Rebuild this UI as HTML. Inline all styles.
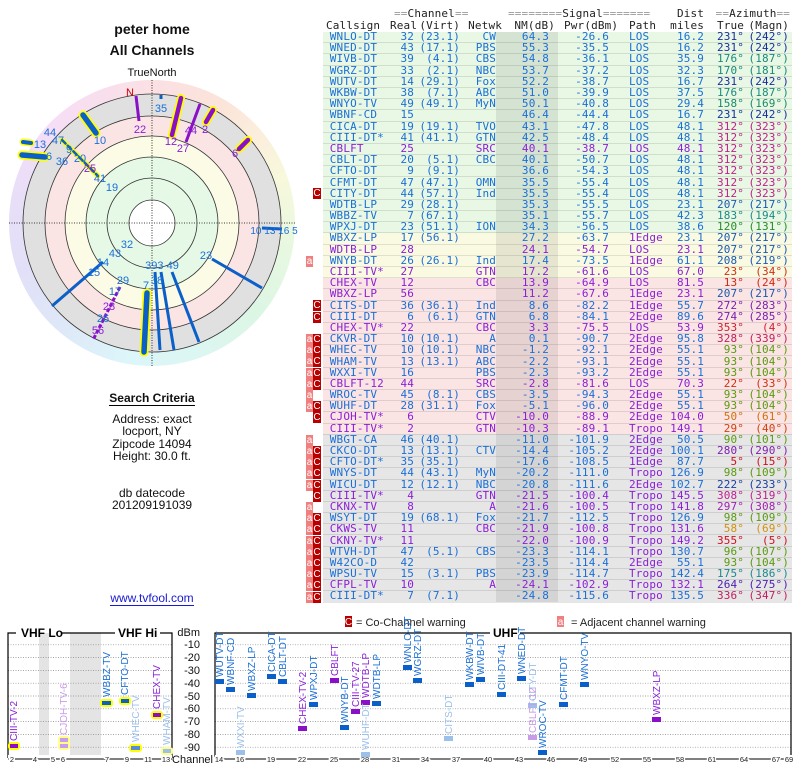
<!DOCTYPE html>
<html><head><meta charset="utf-8">
<style>
*{margin:0;padding:0;box-sizing:border-box}
body{width:800px;height:768px;background:#fff;position:relative;overflow:hidden;font-family:"Liberation Sans",sans-serif}
.t{position:absolute;left:0;width:304px;text-align:center;color:#111}
table{position:absolute;left:323px;top:7.5px;border-collapse:collapse;table-layout:fixed;width:469px;font-family:"DejaVu Sans Mono","Liberation Mono",monospace;font-size:11px;letter-spacing:0.15px}
td{height:11.2px;line-height:10px;padding:0;white-space:nowrap;overflow:visible;border-bottom:1px solid rgba(0,0,0,0.1);color:#1a6fd8}
tr.h td{height:12px;border:none;color:#222;line-height:11px}
tr.h td i{font-style:normal;color:#999}
td.r{text-align:right}
td.nm{text-align:right;padding-right:9px;background:rgba(0,0,0,0.08)}
td.p{padding-left:20px}
td.m{text-align:right;padding-right:3px}
tr.g{background:#e8f8e4}tr.y{background:#fafae2}tr.k{background:#fbe4e4}tr.x{background:#e6e6e6}
tr.pu td{color:#8a1fd8}
td.pp{color:#8a1fd8}
.bd{position:absolute;left:303px;width:20px;height:11px}
.bd span{position:absolute;top:0;height:11px;font-family:"Liberation Sans",sans-serif;font-size:10px;line-height:11px;color:#fff;text-align:center}
.ba{left:3px;width:7px;background:#f08080}
.bc{left:10px;width:8px;background:#b80000}
</style></head><body>
<div class="t" style="top:21px;font-size:14px;font-weight:bold">peter home</div>
<div class="t" style="top:42px;font-size:14px;font-weight:bold">All Channels</div>
<div class="t" style="top:67px;font-size:11px">TrueNorth</div>

<div style="position:absolute;left:9px;top:80px;width:286px;height:286px;border-radius:50%;background:conic-gradient(#fbe0e4 0deg,#fbe4da 30deg,#fbeedc 50deg,#f8f8dc 70deg,#e8f8e0 100deg,#dcf6e4 130deg,#dcf6f2 160deg,#dcf6fa 190deg,#dee8f8 220deg,#e2e0f8 250deg,#e8def8 280deg,#f6def6 315deg,#fbe0e4 360deg)"></div>
<svg style="position:absolute;left:0;top:0" width="304" height="380">
<circle cx="152" cy="223" r="129" fill="#e0e0e0"/>
<circle cx="152" cy="223" r="107" fill="#fbe4e4"/>
<circle cx="152" cy="223" r="87" fill="#fbfbe6"/>
<circle cx="152" cy="223" r="66" fill="#e6f8e6"/>
<circle cx="152" cy="223" r="23" fill="#fff"/>
<g fill="none" stroke="#333" stroke-width="0.8">
<circle cx="152" cy="223" r="129"/><circle cx="152" cy="223" r="107"/><circle cx="152" cy="223" r="87"/><circle cx="152" cy="223" r="66"/><circle cx="152" cy="223" r="45"/><circle cx="152" cy="223" r="23"/>
</g>
<g stroke="#000" stroke-width="0.8" stroke-dasharray="1,1.5"><line x1="152" y1="80" x2="152" y2="366"/><line x1="9" y1="223" x2="295" y2="223"/></g>
<g stroke-linecap="round">
<line x1="181" y1="98" x2="172" y2="135" stroke="#ff0" stroke-width="8"/><line x1="181" y1="98" x2="172" y2="135" stroke="#8a10c8" stroke-width="4.5"/>
<line x1="213" y1="110" x2="206" y2="122" stroke="#ff0" stroke-width="8"/><line x1="213" y1="110" x2="206" y2="122" stroke="#8a10c8" stroke-width="4.5"/>
<line x1="248" y1="140" x2="239" y2="149" stroke="#ff0" stroke-width="8"/><line x1="248" y1="140" x2="239" y2="149" stroke="#8a10c8" stroke-width="4.5"/>
<line x1="83" y1="115" x2="96" y2="133" stroke="#ff0" stroke-width="9"/><line x1="83" y1="115" x2="96" y2="133" stroke="#0a5fc8" stroke-width="5.5"/>
<line x1="23" y1="142" x2="31" y2="143" stroke="#ff0" stroke-width="7"/><line x1="23" y1="142" x2="31" y2="143" stroke="#0a5fc8" stroke-width="4"/>
<line x1="22" y1="155" x2="45" y2="157" stroke="#ff0" stroke-width="9"/><line x1="22" y1="155" x2="45" y2="157" stroke="#0a5fc8" stroke-width="5.5"/>
<line x1="62" y1="140" x2="98" y2="176" stroke="#ff0" stroke-width="5"/><line x1="62" y1="140" x2="98" y2="176" stroke="#0a5fc8" stroke-width="2.5" stroke-dasharray="5,3"/>
<line x1="147" y1="293" x2="144" y2="352" stroke="#ff0" stroke-width="9"/><line x1="147" y1="293" x2="144" y2="352" stroke="#0a5fc8" stroke-width="5.5"/>
</g>
<g stroke-width="3">
<line x1="136" y1="96" x2="139" y2="121" stroke="#8a10c8"/>
<line x1="161" y1="95" x2="161" y2="99" stroke="#0a5fc8"/>
<line x1="200" y1="104" x2="186" y2="142" stroke="#8a10c8"/>
<line x1="212" y1="259" x2="262" y2="288" stroke="#0a5fc8"/>
<line x1="103" y1="262" x2="52" y2="306" stroke="#0a5fc8"/>
<line x1="120" y1="287" x2="93" y2="340" stroke="#8a10c8" stroke-dasharray="4,2"/>
<line x1="155" y1="272" x2="160" y2="350" stroke="#0a5fc8"/>
<line x1="161" y1="272" x2="174" y2="350" stroke="#0a5fc8"/>
<line x1="172" y1="272" x2="199" y2="342" stroke="#0a5fc8"/>
<line x1="262" y1="228" x2="282" y2="229" stroke="#0a5fc8"/>
</g>
<g font-family="Liberation Sans,sans-serif" font-size="11" fill="#1a6fd8" text-anchor="middle">
<text x="130" y="96" fill="#c00">N</text>
<text x="140" y="133" fill="#8a1fd8">22</text><text x="161" y="112">35</text>
<text x="171" y="145" fill="#8a1fd8">12</text><text x="191" y="134" fill="#8a1fd8">44</text><text x="183" y="152" fill="#8a1fd8">27</text>
<text x="205" y="133" fill="#8a1fd8">2</text><text x="235" y="157" fill="#8a1fd8">6</text>
<text x="100" y="144">10</text>
<text x="50" y="136">44</text><text x="58" y="144">47</text><text x="69" y="153">9</text><text x="80" y="162">20</text><text x="90" y="172" fill="#8a1fd8">25</text><text x="100" y="182">41</text><text x="112" y="191">19</text>
<text x="40" y="148">13</text><text x="49" y="160">6</text><text x="62" y="165">36</text>
<text x="274" y="234" font-size="10">10 13 16 5</text>
<text x="206" y="259">23</text>
<text x="127" y="248">32</text><text x="115" y="257">43</text><text x="103" y="266">14</text><text x="94" y="276">15</text>
<text x="123" y="284">29</text><text x="115" y="295">17</text><text x="109" y="310" fill="#8a1fd8">28</text><text x="103" y="322">26</text><text x="98" y="334" fill="#8a1fd8">56</text>
<text x="162" y="269">393 49</text><text x="146" y="289">7</text><text x="157" y="284">38</text>
</g>
</svg>

<div class="t" style="top:391px;font-size:12px;font-weight:bold"><span style="border-bottom:1px solid #000">Search Criteria</span></div>
<div class="t" style="top:413px;font-size:12px;line-height:12.3px">Address: exact<br>locport, NY<br>Zipcode 14094<br>Height: 30.0 ft.</div>
<div class="t" style="top:487px;font-size:12px;line-height:12.3px">db datecode<br>201209191039</div>
<div class="t" style="top:591px;font-size:12px;color:#1a1ad0"><span style="border-bottom:1px solid #1a1ad0">www.tvfool.com</span></div>

<table>
<colgroup><col style="width:67px"><col style="width:24px"><col style="width:46px"><col style="width:36px"><col style="width:62px"><col style="width:51px"><col style="width:58px"><col style="width:37px"><col style="width:40px"><col style="width:48px"></colgroup>
<tr class="h"><td></td><td colspan="2" style="text-align:center;padding-left:4px"><i>==</i>Channel<i>==</i></td><td></td><td colspan="3" style="text-align:left;padding-left:12px"><i>========</i>Signal<i>=======</i></td><td class="r">Dist</td><td colspan="2" style="text-align:right;padding-right:2px"><i>==</i>Azimuth<i>==</i></td></tr>
<tr class="h"><td style="padding-left:3px">Callsign</td><td class="r" style="position:relative;left:0">Real</td><td class="r">(Virt)</td><td class="r" style="position:relative;left:6px">Netwk</td><td class="r" style="padding-right:3px">NM(dB)</td><td class="r" style="position:relative;left:6px">Pwr(dBm)</td><td class="p">Path</td><td class="r">miles</td><td class="r">True</td><td class="m">(Magn)</td></tr>
<tr class="g"><td>&nbsp;WNLO-DT</td><td class="r">32</td><td class="r">(23.1)</td><td class="r">CW</td><td class="nm">64.3</td><td class="r">-26.6</td><td class="p">LOS</td><td class="r">16.2</td><td class="r" style="color:#1a2fa0">231°</td><td class="m" style="color:#1a2fa0">(242°)</td></tr>
<tr class="g"><td>&nbsp;WNED-DT</td><td class="r">43</td><td class="r">(17.1)</td><td class="r">PBS</td><td class="nm">55.3</td><td class="r">-35.5</td><td class="p">LOS</td><td class="r">16.2</td><td class="r" style="color:#1a2fa0">231°</td><td class="m" style="color:#1a2fa0">(242°)</td></tr>
<tr class="g"><td>&nbsp;WIVB-DT</td><td class="r">39</td><td class="r">(4.1)</td><td class="r">CBS</td><td class="nm">54.8</td><td class="r">-36.1</td><td class="p">LOS</td><td class="r">35.9</td><td class="r" style="color:#1a8a7a">176°</td><td class="m" style="color:#1a8a7a">(187°)</td></tr>
<tr class="g"><td>&nbsp;WGRZ-DT</td><td class="r">33</td><td class="r">(2.1)</td><td class="r">NBC</td><td class="nm">53.7</td><td class="r">-37.2</td><td class="p">LOS</td><td class="r">32.3</td><td class="r" style="color:#1a8a7a">170°</td><td class="m" style="color:#1a8a7a">(181°)</td></tr>
<tr class="g"><td>&nbsp;WUTV-DT</td><td class="r">14</td><td class="r">(29.1)</td><td class="r">Fox</td><td class="nm">52.2</td><td class="r">-38.7</td><td class="p">LOS</td><td class="r">16.7</td><td class="r" style="color:#1a2fa0">231°</td><td class="m" style="color:#1a2fa0">(242°)</td></tr>
<tr class="g"><td>&nbsp;WKBW-DT</td><td class="r">38</td><td class="r">(7.1)</td><td class="r">ABC</td><td class="nm">51.0</td><td class="r">-39.9</td><td class="p">LOS</td><td class="r">37.5</td><td class="r" style="color:#1a8a7a">176°</td><td class="m" style="color:#1a8a7a">(187°)</td></tr>
<tr class="g"><td>&nbsp;WNYO-TV</td><td class="r">49</td><td class="r">(49.1)</td><td class="r">MyN</td><td class="nm">50.1</td><td class="r">-40.8</td><td class="p">LOS</td><td class="r">29.4</td><td class="r" style="color:#1a8a6a">158°</td><td class="m" style="color:#1a8a6a">(169°)</td></tr>
<tr class="g"><td>&nbsp;WBNF-CD</td><td class="r">15</td><td class="r"></td><td class="r"></td><td class="nm">46.4</td><td class="r">-44.4</td><td class="p">LOS</td><td class="r">16.7</td><td class="r" style="color:#1a2fa0">231°</td><td class="m" style="color:#1a2fa0">(242°)</td></tr>
<tr class="g"><td>&nbsp;CICA-DT</td><td class="r">19</td><td class="r">(19.1)</td><td class="r">TVO</td><td class="nm">43.1</td><td class="r">-47.8</td><td class="p">LOS</td><td class="r">48.1</td><td class="r" style="color:#c0208a">312°</td><td class="m" style="color:#c0208a">(323°)</td></tr>
<tr class="g"><td>&nbsp;CIII-DT*</td><td class="r">41</td><td class="r">(41.1)</td><td class="r">GTN</td><td class="nm">42.5</td><td class="r">-48.4</td><td class="p">LOS</td><td class="r">48.1</td><td class="r" style="color:#c0208a">312°</td><td class="m" style="color:#c0208a">(323°)</td></tr>
<tr class="g pu"><td>&nbsp;CBLFT</td><td class="r">25</td><td class="r"></td><td class="r">SRC</td><td class="nm">40.1</td><td class="r">-38.7</td><td class="p">LOS</td><td class="r">48.1</td><td class="r" style="color:#c0208a">312°</td><td class="m" style="color:#c0208a">(323°)</td></tr>
<tr class="g"><td>&nbsp;CBLT-DT</td><td class="r">20</td><td class="r">(5.1)</td><td class="r">CBC</td><td class="nm">40.1</td><td class="r">-50.7</td><td class="p">LOS</td><td class="r">48.1</td><td class="r" style="color:#c0208a">312°</td><td class="m" style="color:#c0208a">(323°)</td></tr>
<tr class="g"><td>&nbsp;CFTO-DT</td><td class="r">9</td><td class="r">(9.1)</td><td class="r"></td><td class="nm">36.6</td><td class="r">-54.3</td><td class="p">LOS</td><td class="r">48.1</td><td class="r" style="color:#c0208a">312°</td><td class="m" style="color:#c0208a">(323°)</td></tr>
<tr class="g"><td>&nbsp;CFMT-DT</td><td class="r">47</td><td class="r">(47.1)</td><td class="r">OMN</td><td class="nm">35.5</td><td class="r">-55.4</td><td class="p">LOS</td><td class="r">48.1</td><td class="r" style="color:#c0208a">312°</td><td class="m" style="color:#c0208a">(323°)</td></tr>
<tr class="g"><td>&nbsp;CITY-DT</td><td class="r">44</td><td class="r">(57.1)</td><td class="r">Ind</td><td class="nm">35.5</td><td class="r">-55.4</td><td class="p">LOS</td><td class="r">48.1</td><td class="r" style="color:#c0208a">312°</td><td class="m" style="color:#c0208a">(323°)</td></tr>
<tr class="g"><td>&nbsp;WDTB-LP</td><td class="r">29</td><td class="r">(28.1)</td><td class="r"></td><td class="nm">35.3</td><td class="r">-55.5</td><td class="p">LOS</td><td class="r">23.1</td><td class="r" style="color:#1a5ab0">207°</td><td class="m" style="color:#1a5ab0">(217°)</td></tr>
<tr class="g"><td>&nbsp;WBBZ-TV</td><td class="r">7</td><td class="r">(67.1)</td><td class="r"></td><td class="nm">35.1</td><td class="r">-55.7</td><td class="p">LOS</td><td class="r">42.3</td><td class="r" style="color:#1a8a8a">183°</td><td class="m" style="color:#1a8a8a">(194°)</td></tr>
<tr class="g"><td>&nbsp;WPXJ-DT</td><td class="r">23</td><td class="r">(51.1)</td><td class="r">ION</td><td class="nm">34.3</td><td class="r">-56.5</td><td class="p">LOS</td><td class="r">38.6</td><td class="r" style="color:#2a8a2a">120°</td><td class="m" style="color:#2a8a2a">(131°)</td></tr>
<tr class="y"><td>&nbsp;WBXZ-LP</td><td class="r">17</td><td class="r">(56.1)</td><td class="r"></td><td class="nm">27.2</td><td class="r">-63.7</td><td class="p pp">1Edge</td><td class="r">23.1</td><td class="r" style="color:#1a5ab0">207°</td><td class="m" style="color:#1a5ab0">(217°)</td></tr>
<tr class="y pu"><td>&nbsp;WDTB-LP</td><td class="r">28</td><td class="r"></td><td class="r"></td><td class="nm">24.1</td><td class="r">-54.7</td><td class="p">LOS</td><td class="r">23.1</td><td class="r" style="color:#1a5ab0">207°</td><td class="m" style="color:#1a5ab0">(217°)</td></tr>
<tr class="y"><td>&nbsp;WNYB-DT</td><td class="r">26</td><td class="r">(26.1)</td><td class="r">Ind</td><td class="nm">17.4</td><td class="r">-73.5</td><td class="p pp">1Edge</td><td class="r">61.1</td><td class="r" style="color:#1a5ab0">208°</td><td class="m" style="color:#1a5ab0">(219°)</td></tr>
<tr class="y pu"><td>&nbsp;CIII-TV*</td><td class="r">27</td><td class="r"></td><td class="r">GTN</td><td class="nm">17.2</td><td class="r">-61.6</td><td class="p">LOS</td><td class="r">67.0</td><td class="r" style="color:#d03010">23°</td><td class="m" style="color:#d03010">(34°)</td></tr>
<tr class="k pu"><td>&nbsp;CHEX-TV</td><td class="r">12</td><td class="r"></td><td class="r">CBC</td><td class="nm">13.9</td><td class="r">-64.9</td><td class="p">LOS</td><td class="r">81.5</td><td class="r" style="color:#d02810">13°</td><td class="m" style="color:#d02810">(24°)</td></tr>
<tr class="k pu"><td>&nbsp;WBXZ-LP</td><td class="r">56</td><td class="r"></td><td class="r"></td><td class="nm">11.2</td><td class="r">-67.6</td><td class="p">1Edge</td><td class="r">23.1</td><td class="r" style="color:#1a5ab0">207°</td><td class="m" style="color:#1a5ab0">(217°)</td></tr>
<tr class="k"><td>&nbsp;CITS-DT</td><td class="r">36</td><td class="r">(36.1)</td><td class="r">Ind</td><td class="nm">8.6</td><td class="r">-82.2</td><td class="p pp">1Edge</td><td class="r">55.7</td><td class="r" style="color:#7a20b0">272°</td><td class="m" style="color:#7a20b0">(283°)</td></tr>
<tr class="k"><td>&nbsp;CIII-DT</td><td class="r">6</td><td class="r">(6.1)</td><td class="r">GTN</td><td class="nm">6.8</td><td class="r">-84.1</td><td class="p pp">2Edge</td><td class="r">89.6</td><td class="r" style="color:#7a20b0">274°</td><td class="m" style="color:#7a20b0">(285°)</td></tr>
<tr class="k pu"><td>&nbsp;CHEX-TV*</td><td class="r">22</td><td class="r"></td><td class="r">CBC</td><td class="nm">3.3</td><td class="r">-75.5</td><td class="p">LOS</td><td class="r">53.9</td><td class="r" style="color:#d02030">353°</td><td class="m" style="color:#d02030">(4°)</td></tr>
<tr class="k"><td>&nbsp;CKVR-DT</td><td class="r">10</td><td class="r">(10.1)</td><td class="r">A</td><td class="nm">0.1</td><td class="r">-90.7</td><td class="p pp">2Edge</td><td class="r">95.8</td><td class="r" style="color:#c0205a">328°</td><td class="m" style="color:#c0205a">(339°)</td></tr>
<tr class="k"><td>&nbsp;WHEC-TV</td><td class="r">10</td><td class="r">(10.1)</td><td class="r">NBC</td><td class="nm">-1.2</td><td class="r">-92.1</td><td class="p pp">2Edge</td><td class="r">55.1</td><td class="r" style="color:#5a9a10">93°</td><td class="m" style="color:#5a9a10">(104°)</td></tr>
<tr class="k"><td>&nbsp;WHAM-TV</td><td class="r">13</td><td class="r">(13.1)</td><td class="r">ABC</td><td class="nm">-2.2</td><td class="r">-93.1</td><td class="p pp">2Edge</td><td class="r">55.1</td><td class="r" style="color:#5a9a10">93°</td><td class="m" style="color:#5a9a10">(104°)</td></tr>
<tr class="k"><td>&nbsp;WXXI-TV</td><td class="r">16</td><td class="r"></td><td class="r">PBS</td><td class="nm">-2.3</td><td class="r">-93.2</td><td class="p pp">2Edge</td><td class="r">55.1</td><td class="r" style="color:#5a9a10">93°</td><td class="m" style="color:#5a9a10">(104°)</td></tr>
<tr class="k pu"><td>&nbsp;CBLFT-12</td><td class="r">44</td><td class="r"></td><td class="r">SRC</td><td class="nm">-2.8</td><td class="r">-81.6</td><td class="p">LOS</td><td class="r">70.3</td><td class="r" style="color:#d03010">22°</td><td class="m" style="color:#d03010">(33°)</td></tr>
<tr class="k"><td>&nbsp;WROC-TV</td><td class="r">45</td><td class="r">(8.1)</td><td class="r">CBS</td><td class="nm">-3.5</td><td class="r">-94.3</td><td class="p pp">2Edge</td><td class="r">55.1</td><td class="r" style="color:#5a9a10">93°</td><td class="m" style="color:#5a9a10">(104°)</td></tr>
<tr class="k"><td>&nbsp;WUHF-DT</td><td class="r">28</td><td class="r">(31.1)</td><td class="r">Fox</td><td class="nm">-5.1</td><td class="r">-96.0</td><td class="p pp">2Edge</td><td class="r">55.1</td><td class="r" style="color:#5a9a10">93°</td><td class="m" style="color:#5a9a10">(104°)</td></tr>
<tr class="k pu"><td>&nbsp;CJOH-TV*</td><td class="r">6</td><td class="r"></td><td class="r">CTV</td><td class="nm">-10.0</td><td class="r">-88.9</td><td class="p">2Edge</td><td class="r">104.0</td><td class="r" style="color:#d07010">50°</td><td class="m" style="color:#d07010">(61°)</td></tr>
<tr class="k pu"><td>&nbsp;CIII-TV*</td><td class="r">2</td><td class="r"></td><td class="r">GTN</td><td class="nm">-10.3</td><td class="r">-89.1</td><td class="p">Tropo</td><td class="r">149.1</td><td class="r" style="color:#d04010">29°</td><td class="m" style="color:#d04010">(40°)</td></tr>
<tr class="x"><td>&nbsp;WBGT-CA</td><td class="r">46</td><td class="r">(40.1)</td><td class="r"></td><td class="nm">-11.0</td><td class="r">-101.9</td><td class="p pp">2Edge</td><td class="r">50.5</td><td class="r" style="color:#5a9a10">90°</td><td class="m" style="color:#5a9a10">(101°)</td></tr>
<tr class="x"><td>&nbsp;CKCO-DT</td><td class="r">13</td><td class="r">(13.1)</td><td class="r">CTV</td><td class="nm">-14.4</td><td class="r">-105.2</td><td class="p pp">2Edge</td><td class="r">100.1</td><td class="r" style="color:#8020b0">280°</td><td class="m" style="color:#8020b0">(290°)</td></tr>
<tr class="x"><td>&nbsp;CFTO-DT*</td><td class="r">35</td><td class="r">(35.1)</td><td class="r"></td><td class="nm">-17.6</td><td class="r">-108.5</td><td class="p pp">1Edge</td><td class="r">87.7</td><td class="r" style="color:#d01020">5°</td><td class="m" style="color:#d01020">(15°)</td></tr>
<tr class="x"><td>&nbsp;WNYS-DT</td><td class="r">44</td><td class="r">(43.1)</td><td class="r">MyN</td><td class="nm">-20.2</td><td class="r">-111.0</td><td class="p pp">Tropo</td><td class="r">126.9</td><td class="r" style="color:#5a9a10">98°</td><td class="m" style="color:#5a9a10">(109°)</td></tr>
<tr class="x"><td>&nbsp;WICU-DT</td><td class="r">12</td><td class="r">(12.1)</td><td class="r">NBC</td><td class="nm">-20.8</td><td class="r">-111.6</td><td class="p pp">2Edge</td><td class="r">102.7</td><td class="r" style="color:#1a40a0">222°</td><td class="m" style="color:#1a40a0">(233°)</td></tr>
<tr class="x pu"><td>&nbsp;CIII-TV*</td><td class="r">4</td><td class="r"></td><td class="r">GTN</td><td class="nm">-21.5</td><td class="r">-100.4</td><td class="p">Tropo</td><td class="r">145.5</td><td class="r" style="color:#c02090">308°</td><td class="m" style="color:#c02090">(319°)</td></tr>
<tr class="x pu"><td>&nbsp;CKNX-TV</td><td class="r">8</td><td class="r"></td><td class="r">A</td><td class="nm">-21.6</td><td class="r">-100.5</td><td class="p">Tropo</td><td class="r">141.8</td><td class="r" style="color:#a020b0">297°</td><td class="m" style="color:#a020b0">(308°)</td></tr>
<tr class="x"><td>&nbsp;WSYT-DT</td><td class="r">19</td><td class="r">(68.1)</td><td class="r">Fox</td><td class="nm">-21.7</td><td class="r">-112.5</td><td class="p pp">Tropo</td><td class="r">126.9</td><td class="r" style="color:#5a9a10">98°</td><td class="m" style="color:#5a9a10">(109°)</td></tr>
<tr class="x pu"><td>&nbsp;CKWS-TV</td><td class="r">11</td><td class="r"></td><td class="r">CBC</td><td class="nm">-21.9</td><td class="r">-100.8</td><td class="p">Tropo</td><td class="r">131.6</td><td class="r" style="color:#d09010">58°</td><td class="m" style="color:#d09010">(69°)</td></tr>
<tr class="x pu"><td>&nbsp;CKNY-TV*</td><td class="r">11</td><td class="r"></td><td class="r"></td><td class="nm">-22.0</td><td class="r">-100.9</td><td class="p">Tropo</td><td class="r">149.2</td><td class="r" style="color:#d01020">355°</td><td class="m" style="color:#d01020">(5°)</td></tr>
<tr class="x"><td>&nbsp;WTVH-DT</td><td class="r">47</td><td class="r">(5.1)</td><td class="r">CBS</td><td class="nm">-23.3</td><td class="r">-114.1</td><td class="p pp">Tropo</td><td class="r">130.7</td><td class="r" style="color:#5a9a10">96°</td><td class="m" style="color:#5a9a10">(107°)</td></tr>
<tr class="x"><td>&nbsp;W42CO-D</td><td class="r">42</td><td class="r"></td><td class="r"></td><td class="nm">-23.5</td><td class="r">-114.4</td><td class="p pp">2Edge</td><td class="r">55.1</td><td class="r" style="color:#5a9a10">93°</td><td class="m" style="color:#5a9a10">(104°)</td></tr>
<tr class="x"><td>&nbsp;WPSU-TV</td><td class="r">15</td><td class="r">(3.1)</td><td class="r">PBS</td><td class="nm">-23.9</td><td class="r">-114.7</td><td class="p pp">Tropo</td><td class="r">142.4</td><td class="r" style="color:#1a8a8a">175°</td><td class="m" style="color:#1a8a8a">(186°)</td></tr>
<tr class="x pu"><td>&nbsp;CFPL-TV</td><td class="r">10</td><td class="r"></td><td class="r">A</td><td class="nm">-24.1</td><td class="r">-102.9</td><td class="p">Tropo</td><td class="r">132.1</td><td class="r" style="color:#5020b0">264°</td><td class="m" style="color:#5020b0">(275°)</td></tr>
<tr class="x"><td>&nbsp;CIII-DT*</td><td class="r">7</td><td class="r">(7.1)</td><td class="r"></td><td class="nm">-24.8</td><td class="r">-115.6</td><td class="p pp">Tropo</td><td class="r">135.5</td><td class="r" style="color:#c02060">336°</td><td class="m" style="color:#c02060">(347°)</td></tr>
</table>

<div class="bd" style="top:188.3px"><span class="bc">C</span></div>
<div class="bd" style="top:255.5px"><span class="ba">a</span></div>
<div class="bd" style="top:300.3px"><span class="bc">C</span></div>
<div class="bd" style="top:311.5px"><span class="bc">C</span></div>
<div class="bd" style="top:333.9px"><span class="ba">a</span><span class="bc">C</span></div>
<div class="bd" style="top:345.1px"><span class="ba">a</span><span class="bc">C</span></div>
<div class="bd" style="top:356.3px"><span class="ba">a</span><span class="bc">C</span></div>
<div class="bd" style="top:367.5px"><span class="ba">a</span><span class="bc">C</span></div>
<div class="bd" style="top:378.7px"><span class="ba">a</span><span class="bc">C</span></div>
<div class="bd" style="top:389.9px"><span class="ba">a</span></div>
<div class="bd" style="top:401.1px"><span class="ba">a</span><span class="bc">C</span></div>
<div class="bd" style="top:412.3px"><span class="bc">C</span></div>
<div class="bd" style="top:434.7px"><span class="ba">a</span></div>
<div class="bd" style="top:445.9px"><span class="ba">a</span><span class="bc">C</span></div>
<div class="bd" style="top:457.1px"><span class="ba">a</span><span class="bc">C</span></div>
<div class="bd" style="top:468.3px"><span class="ba">a</span><span class="bc">C</span></div>
<div class="bd" style="top:479.5px"><span class="ba">a</span><span class="bc">C</span></div>
<div class="bd" style="top:490.7px"><span class="bc">C</span></div>
<div class="bd" style="top:501.9px"><span class="ba">a</span></div>
<div class="bd" style="top:513.1px"><span class="ba">a</span><span class="bc">C</span></div>
<div class="bd" style="top:524.3px"><span class="ba">a</span><span class="bc">C</span></div>
<div class="bd" style="top:535.5px"><span class="ba">a</span><span class="bc">C</span></div>
<div class="bd" style="top:546.7px"><span class="ba">a</span><span class="bc">C</span></div>
<div class="bd" style="top:557.9px"><span class="ba">a</span><span class="bc">C</span></div>
<div class="bd" style="top:569.1px"><span class="ba">a</span><span class="bc">C</span></div>
<div class="bd" style="top:580.3px"><span class="ba">a</span><span class="bc">C</span></div>
<div class="bd" style="top:591.5px"><span class="ba">a</span><span class="bc">C</span></div>

<svg style="position:absolute;left:0;top:0" width="800" height="768" font-family="Liberation Sans,sans-serif">
<rect x="345" y="616" width="7" height="11" fill="#b80000"/><text x="348.5" y="625" font-size="10" fill="#fff" text-anchor="middle">C</text>
<text x="356" y="626" font-size="11" fill="#222">= Co-Channel warning</text>
<rect x="557" y="616" width="7" height="11" fill="#f08080"/><text x="560.5" y="625" font-size="10" fill="#fff" text-anchor="middle">a</text>
<text x="571" y="626" font-size="11" fill="#222">= Adjacent channel warning</text>
<rect x="39" y="633" width="10" height="125" fill="#e4e4e4"/>
<rect x="70" y="633" width="31" height="125" fill="#e4e4e4"/>
<g stroke="#888" stroke-width="0.7" stroke-dasharray="1,1.5">
<path d="M8 644.8H172M8 657.6H172M8 670.4H172M8 683.2H172M8 696H172M8 708.8H172M8 721.6H172M8 734.4H172M8 747.2H172"/>
<path d="M215 644.8H791M215 657.6H791M215 670.4H791M215 683.2H791M215 696H791M215 708.8H791M215 721.6H791M215 734.4H791M215 747.2H791"/>
</g>
<g fill="none" stroke="#000" stroke-width="1.2">
<path d="M8 758V633H16M62 633H115M160 633H172V758"/>
<path d="M215 758V633H490M520 633H791V758"/>
</g>
<text x="21" y="637" font-size="12" font-weight="bold">VHF Lo</text>
<text x="118" y="637" font-size="12" font-weight="bold">VHF Hi</text>
<text x="493" y="637" font-size="12" font-weight="bold">UHF</text>
<g font-size="11" text-anchor="end" fill="#111">
<text x="200" y="636">dBm</text><text x="200" y="648">-10</text><text x="200" y="661">-20</text><text x="200" y="674">-30</text><text x="200" y="687">-40</text><text x="200" y="700">-50</text><text x="200" y="712">-60</text><text x="200" y="725">-70</text><text x="200" y="738">-80</text><text x="200" y="751">-90</text>
<text x="213" y="763">Channel</text>
</g>
<g font-size="7.5" text-anchor="middle" fill="#222">
<rect x="8" y="755" width="164" height="8" fill="#fff"/><rect x="215" y="755" width="577" height="8" fill="#fff"/>
<path d="M8 759H172M215 759H791" stroke="#000" stroke-width="1"/>
<g stroke="#fff" stroke-width="3" style="paint-order:stroke">
<text x="12" y="762">2</text><text x="35" y="762">4</text><text x="53" y="762">5</text><text x="63" y="762">6</text><text x="107" y="762">7</text><text x="127" y="762">9</text><text x="148" y="762">11</text><text x="166" y="762">13</text>
<text x="219" y="762">14</text><text x="240" y="762">16</text><text x="271" y="762">19</text><text x="302" y="762">22</text><text x="334" y="762">25</text><text x="365" y="762">28</text><text x="396" y="762">31</text><text x="425" y="762">34</text><text x="456" y="762">37</text><text x="488" y="762">40</text><text x="519" y="762">43</text><text x="551" y="762">46</text><text x="583" y="762">49</text><text x="615" y="762">52</text><text x="647" y="762">55</text><text x="680" y="762">58</text><text x="712" y="762">61</text><text x="744" y="762">64</text><text x="776" y="762">67</text><text x="789" y="762">69</text>
</g>
</g>
<g>
<rect x="8" y="742" width="12" height="8" rx="3" fill="#ff0"/><rect x="10" y="744" width="8" height="4" fill="#8a10c8"/>
<rect x="58" y="736" width="12" height="8" rx="3" fill="#ff8"/><rect x="60" y="738" width="8" height="4" fill="#c89ce8"/>
<rect x="58" y="742" width="12" height="8" rx="3" fill="#ff8"/><rect x="60" y="744" width="8" height="4" fill="#c89ce8"/>
<rect x="100" y="699" width="13" height="8" rx="3" fill="#ff0"/><rect x="102" y="701" width="9" height="4" fill="#0a5fc8"/>
<rect x="119" y="697" width="12" height="8" rx="3" fill="#ff0"/><rect x="121" y="699" width="8" height="4" fill="#0a5fc8"/>
<rect x="129" y="744" width="13" height="8" rx="3" fill="#ff0"/><rect x="131" y="746" width="9" height="4" fill="#5a8ad8"/>
<rect x="151" y="711" width="12" height="8" rx="3" fill="#ff0"/><rect x="153" y="713" width="8" height="4" fill="#8a10c8"/>
<rect x="161" y="747" width="12" height="8" rx="3" fill="#ff8"/><rect x="163" y="749" width="8" height="4" fill="#9cc0ea"/>
</g>
<g font-size="10">
<text transform="translate(17,741) rotate(-90)" fill="#8a1fd8">CIII-TV-2</text>
<text transform="translate(67,735) rotate(-90)" fill="#c89ce8">CJOH-TV-6</text>
<text transform="translate(110,697) rotate(-90)" fill="#1a6fd8">WBBZ-TV</text>
<text transform="translate(128,695) rotate(-90)" fill="#1a6fd8">CFTO-DT</text>
<text transform="translate(139,742) rotate(-90)" fill="#9cc0ea">WHEC-TV</text>
<text transform="translate(160,709) rotate(-90)" fill="#8a1fd8">CHEX-TV</text>
<text transform="translate(170,745) rotate(-90)" fill="#9cc0ea">WHAM-TV</text>
</g>
<g>
<rect x="215" y="679" width="9" height="5" fill="#0a5fc8"/>
<rect x="226" y="687" width="9" height="5" fill="#0a5fc8"/>
<rect x="236" y="750" width="9" height="5" fill="#9cc0ea"/>
<rect x="247" y="693" width="9" height="5" fill="#0a5fc8"/>
<rect x="267" y="674" width="9" height="5" fill="#0a5fc8"/>
<rect x="278" y="679" width="9" height="5" fill="#0a5fc8"/>
<rect x="298" y="726" width="9" height="5" fill="#8a10c8"/>
<rect x="309" y="702" width="9" height="5" fill="#0a5fc8"/>
<rect x="330" y="678" width="9" height="5" fill="#8a10c8"/>
<rect x="340" y="725" width="9" height="5" fill="#0a5fc8"/>
<rect x="351" y="709" width="9" height="5" fill="#8a10c8"/>
<rect x="361" y="700" width="9" height="5" fill="#8a10c8"/>
<rect x="361" y="752" width="9" height="5" fill="#9cc0ea"/>
<rect x="372" y="701" width="9" height="5" fill="#0a5fc8"/>
<rect x="403" y="665" width="9" height="5" fill="#0a5fc8"/>
<rect x="413" y="678" width="9" height="5" fill="#0a5fc8"/>
<rect x="444" y="736" width="9" height="5" fill="#9cc0ea"/>
<rect x="465" y="682" width="9" height="5" fill="#0a5fc8"/>
<rect x="476" y="677" width="9" height="5" fill="#0a5fc8"/>
<rect x="497" y="692" width="9" height="5" fill="#0a5fc8"/>
<rect x="517" y="676" width="9" height="5" fill="#0a5fc8"/>
<rect x="528" y="703" width="9" height="5" fill="#9cc0ea"/>
<rect x="528" y="735" width="9" height="5" fill="#c89ce8"/>
<rect x="538" y="750" width="9" height="5" fill="#0a5fc8"/>
<rect x="559" y="702" width="9" height="5" fill="#0a5fc8"/>
<rect x="580" y="682" width="9" height="5" fill="#0a5fc8"/>
<rect x="652" y="717" width="9" height="5" fill="#8a10c8"/>
</g>
<g font-size="10">
<text transform="translate(223,677) rotate(-90)" fill="#1a6fd8">WUTV-DT</text>
<text transform="translate(234,685) rotate(-90)" fill="#1a6fd8">WBNF-CD</text>
<text transform="translate(244,748) rotate(-90)" fill="#9cc0ea">WXXI-TV</text>
<text transform="translate(255,691) rotate(-90)" fill="#1a6fd8">WBXZ-LP</text>
<text transform="translate(275,672) rotate(-90)" fill="#1a6fd8">CICA-DT</text>
<text transform="translate(286,677) rotate(-90)" fill="#1a6fd8">CBLT-DT</text>
<text transform="translate(306,724) rotate(-90)" fill="#8a1fd8">CHEX-TV-2</text>
<text transform="translate(317,700) rotate(-90)" fill="#1a6fd8">WPXJ-DT</text>
<text transform="translate(338,676) rotate(-90)" fill="#8a1fd8">CBLFT</text>
<text transform="translate(348,723) rotate(-90)" fill="#1a6fd8">WNYB-DT</text>
<text transform="translate(359,707) rotate(-90)" fill="#8a1fd8">CIII-TV-27</text>
<text transform="translate(369,698) rotate(-90)" fill="#8a1fd8">WDTB-LP</text>
<text transform="translate(369,750) rotate(-90)" fill="#9cc0ea">WUHF-DT</text>
<text transform="translate(380,699) rotate(-90)" fill="#1a6fd8">WDTB-LP</text>
<text transform="translate(411,663) rotate(-90)" fill="#1a6fd8">WNLO-DT</text>
<text transform="translate(421,676) rotate(-90)" fill="#1a6fd8">WGRZ-DT</text>
<text transform="translate(452,734) rotate(-90)" fill="#9cc0ea">CITS-DT</text>
<text transform="translate(473,680) rotate(-90)" fill="#1a6fd8">WKBW-DT</text>
<text transform="translate(484,675) rotate(-90)" fill="#1a6fd8">WIVB-DT</text>
<text transform="translate(505,690) rotate(-90)" fill="#1a6fd8">CIII-DT-41</text>
<text transform="translate(525,674) rotate(-90)" fill="#1a6fd8">WNED-DT</text>
<text transform="translate(536,701) rotate(-90)" fill="#9cc0ea">CITY-DT</text>
<text transform="translate(536,733) rotate(-90)" fill="#c89ce8">CBLFT-12</text>
<text transform="translate(546,748) rotate(-90)" fill="#1a6fd8">WROC-TV</text>
<text transform="translate(567,700) rotate(-90)" fill="#1a6fd8">CFMT-DT</text>
<text transform="translate(588,680) rotate(-90)" fill="#1a6fd8">WNYO-TV</text>
<text transform="translate(660,715) rotate(-90)" fill="#8a1fd8">WBXZ-LP</text>
</g>
</svg>
</body></html>
